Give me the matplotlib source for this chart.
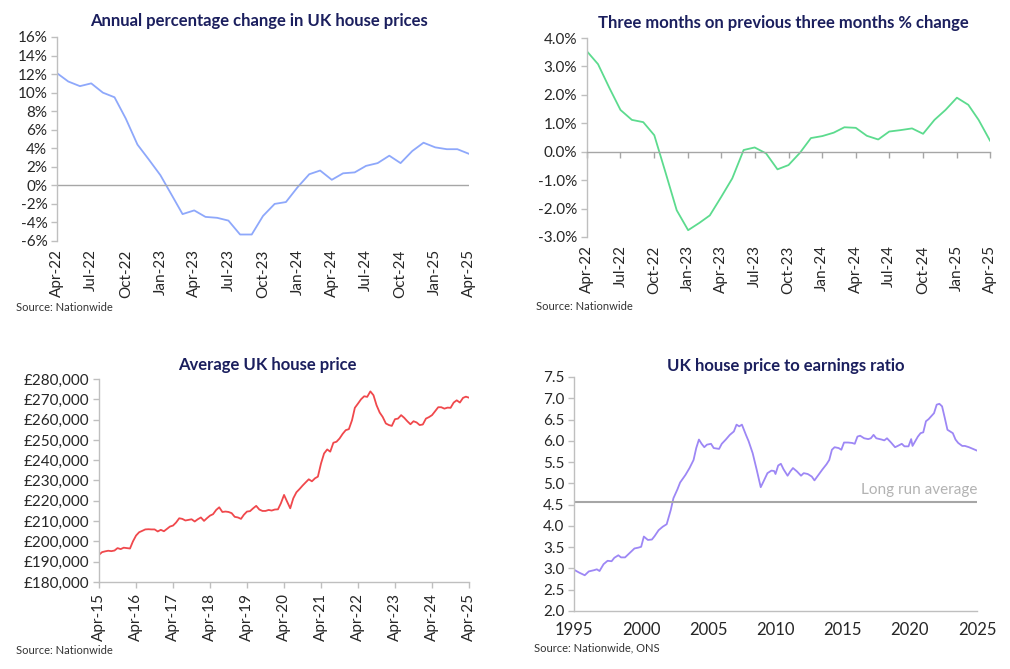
import matplotlib
matplotlib.use("Agg")
import matplotlib.pyplot as plt
import matplotlib.dates as mdates
import matplotlib.ticker as mticker
import pandas as pd

plt.rcParams['font.family'] = ['Lato', 'DejaVu Sans']

# --- data ---
annual_change = [12.1, 11.2, 10.7, 11.0, 10.0, 9.5, 7.2, 4.4, 2.8, 1.1, -1.1, -3.1,
                 -2.7, -3.4, -3.5, -3.8, -5.3, -5.3, -3.3, -2.0, -1.8, -0.2, 1.2, 1.6,
                 0.6, 1.3, 1.4, 2.1, 2.4, 3.2, 2.4, 3.7, 4.6, 4.1, 3.9, 3.9, 3.4]

three_month_change = [3.53, 3.08, 2.24, 1.47, 1.12, 1.04, 0.58, -0.75, -2.06, -2.76, -2.5, -2.24,
                      -1.59, -0.94, 0.06, 0.15, -0.06, -0.62, -0.47, -0.04, 0.48, 0.55, 0.67, 0.86,
                      0.84, 0.56, 0.43, 0.71, 0.76, 0.82, 0.63, 1.12, 1.47, 1.9, 1.65, 1.12, 0.39]

avg_price_k = [193.4, 194.7, 195.1, 195.4, 195.2, 195.5, 196.7, 196.2, 196.9, 196.7, 196.5, 200.0,
               202.9, 204.5, 205.2, 205.9, 206.0, 205.9, 205.9, 204.9, 205.7, 205.0, 206.2, 207.3,
               207.8, 209.3, 211.4, 211.1, 210.3, 210.6, 210.9, 209.8, 210.9, 211.8, 210.1, 211.4,
               212.7, 213.4, 215.5, 216.8, 214.5, 214.7, 214.5, 213.9, 212.1, 211.8, 211.1, 213.1,
               214.7, 214.9, 216.3, 217.5, 215.7, 215.0, 215.0, 215.5, 215.2, 215.7, 215.8, 218.8,
               222.9, 219.6, 216.3, 221.2, 224.2, 225.8, 227.5, 229.1, 230.6, 229.6, 231.1, 231.9,
               238.4, 243.3, 245.3, 244.2, 248.6, 249.1, 250.7, 253.0, 254.8, 255.3, 259.7, 265.8,
               267.9, 270.0, 271.5, 271.2, 273.9, 272.0, 267.1, 263.5, 261.3, 258.1, 257.3, 256.9,
               260.2, 260.5, 262.2, 260.9, 259.2, 257.7, 259.2, 258.6, 257.3, 257.6, 260.5, 261.2,
               262.2, 264.1, 266.1, 266.1, 265.4, 265.9, 265.8, 268.4, 269.5, 268.4, 270.7, 271.3,
               270.8]

ratio_years = [1995.0, 1995.4, 1995.8, 1996.1, 1996.5, 1996.7, 1996.9, 1997.2, 1997.5, 1997.8,
               1998.0, 1998.3, 1998.5, 1998.8, 1999.1, 1999.5, 1999.8, 2000.0, 2000.2, 2000.5,
               2000.8, 2001.0, 2001.3, 2001.6, 2001.9, 2002.2, 2002.4, 2002.7, 2002.9, 2003.3,
               2003.6, 2003.9, 2004.1, 2004.3, 2004.5, 2004.7, 2004.9, 2005.2, 2005.4, 2005.8,
               2006.0, 2006.3, 2006.6, 2006.9, 2007.1, 2007.3, 2007.5, 2007.8, 2008.0, 2008.3,
               2008.6, 2008.9, 2009.1, 2009.4, 2009.7, 2009.9, 2010.0, 2010.2, 2010.4, 2010.6,
               2010.9, 2011.1, 2011.3, 2011.6, 2011.9, 2012.1, 2012.4, 2012.7, 2012.9, 2013.2,
               2013.5, 2013.8, 2014.0, 2014.2, 2014.4, 2014.7, 2014.9, 2015.1, 2015.4, 2015.7,
               2015.9, 2016.1, 2016.3, 2016.6, 2016.9, 2017.1, 2017.3, 2017.5, 2017.9, 2018.1,
               2018.3, 2018.6, 2018.9, 2019.1, 2019.4, 2019.6, 2019.9, 2020.1, 2020.2, 2020.4,
               2020.6, 2020.8, 2021.0, 2021.2, 2021.4, 2021.6, 2021.8, 2022.0, 2022.2, 2022.4,
               2022.6, 2022.8, 2023.0, 2023.2, 2023.4, 2023.6, 2023.9, 2024.1, 2024.4, 2024.7,
               2025.0]
ratio_values = [2.97, 2.90, 2.84, 2.93, 2.96, 2.98, 2.94, 3.10, 3.18, 3.17,
                3.25, 3.31, 3.26, 3.26, 3.35, 3.47, 3.49, 3.51, 3.75, 3.67,
                3.68, 3.76, 3.90, 3.98, 4.04, 4.37, 4.65, 4.86, 5.02, 5.20,
                5.36, 5.55, 5.83, 6.03, 5.93, 5.85, 5.91, 5.93, 5.83, 5.81,
                5.93, 6.03, 6.14, 6.22, 6.38, 6.34, 6.38, 6.14, 5.99, 5.71,
                5.32, 4.91, 5.04, 5.24, 5.30, 5.29, 5.22, 5.42, 5.46, 5.33,
                5.18, 5.28, 5.36, 5.28, 5.18, 5.24, 5.22, 5.16, 5.07, 5.20,
                5.33, 5.45, 5.55, 5.79, 5.85, 5.83, 5.79, 5.96, 5.96, 5.95,
                5.93, 6.10, 6.12, 6.06, 6.04, 6.06, 6.14, 6.06, 6.03, 6.01,
                6.06, 5.96, 5.85, 5.88, 5.93, 5.87, 5.87, 6.04, 5.88, 5.99,
                6.10, 6.18, 6.20, 6.46, 6.51, 6.58, 6.65, 6.85, 6.87, 6.81,
                6.54, 6.26, 6.22, 6.18, 6.03, 5.95, 5.88, 5.88, 5.85, 5.81,
                5.77]
long_run_average = 4.57

months_short = pd.date_range("2022-04-01", periods=len(annual_change), freq="MS")
months_long = pd.date_range("2015-04-01", periods=len(avg_price_k), freq="MS")

TITLE_COL = "#1b1f5e"
AXIS_COL = "#bfbfbf"
ZERO_COL = "#a6a6a6"
TEXT_COL = "#333333"

W, H = 1010, 669
fig = plt.figure(figsize=(W / 100, H / 100), dpi=100)


def add_axes(left, top, right, bottom):
    return fig.add_axes([left / W, 1 - bottom / H, (right - left) / W, (bottom - top) / H])


def style(ax):
    for s in ["top", "right"]:
        ax.spines[s].set_visible(False)
    for s in ["left", "bottom"]:
        ax.spines[s].set_color(AXIS_COL)
        ax.spines[s].set_linewidth(1)
    ax.tick_params(axis="both", colors=AXIS_COL, labelcolor="#262626", labelsize=11,
                   length=4, width=1)
    ax.tick_params(axis="y", pad=3)


def title(x, y, text):
    fig.text(x / W, 1 - y / H, text, ha="center", va="center", fontsize=12,
             fontweight="bold", color=TITLE_COL)


def source(x, y, text):
    fig.text(x / W, 1 - y / H, text, ha="left", va="center", fontsize=8, color=TEXT_COL)


# --- panel 1: annual % change ---
ax1 = add_axes(57, 37, 469, 241)
style(ax1)
ax1.plot(months_short, annual_change, color="#8ea8fb", lw=1.3)
ax1.axhline(0, color=ZERO_COL, lw=1)
ax1.set_ylim(-6, 16)
ax1.set_yticks(range(-6, 17, 2))
ax1.yaxis.set_major_formatter(mticker.FuncFormatter(lambda v, p: f"{v:.0f}%"))
ax1.set_xlim(months_short[0], months_short[-1])
ax1.set_xticks(months_short[::3])
ax1.xaxis.set_major_formatter(mdates.DateFormatter("%b-%y"))
ax1.spines["bottom"].set_visible(False)
ax1.tick_params(axis="x", length=0, labelrotation=90, pad=6)
title(259, 21, "Annual percentage change in UK house prices")
source(16, 308, "Source: Nationwide")

# --- panel 2: three month on three month ---
ax2 = add_axes(587, 38, 990, 237)
style(ax2)
ax2.plot(months_short, three_month_change, color="#5cdb8e", lw=1.3)
ax2.set_ylim(-3, 4)
ax2.set_yticks(range(-3, 5))
ax2.yaxis.set_major_formatter(mticker.FuncFormatter(lambda v, p: f"{v:.1f}%"))
ax2.set_xlim(months_short[0], months_short[-1])
ax2.set_xticks(months_short[::3])
ax2.spines["bottom"].set_position(("data", 0))
ax2.spines["bottom"].set_color(ZERO_COL)
ax2.tick_params(axis="x", labelbottom=False, length=4, colors=ZERO_COL)
sec2 = ax2.secondary_xaxis("bottom")
sec2.set_xticks(months_short[::3])
sec2.xaxis.set_major_formatter(mdates.DateFormatter("%b-%y"))
sec2.spines["bottom"].set_visible(False)
sec2.tick_params(axis="x", length=0, labelrotation=90, labelsize=11, labelcolor="#262626", pad=6)
title(783, 23, "Three months on previous three months % change")
source(536, 306, "Source: Nationwide")

# --- panel 3: average price ---
ax3 = add_axes(99, 379, 469, 582)
style(ax3)
ax3.plot(months_long, [v * 1000 for v in avg_price_k], color="#f0484c", lw=1.3)
ax3.set_ylim(180000, 280000)
ax3.set_yticks(range(180000, 280001, 10000))
ax3.yaxis.set_major_formatter(mticker.FuncFormatter(lambda v, p: f"£{v:,.0f}"))
ax3.set_xlim(months_long[0], months_long[-1])
ax3.set_xticks(months_long[::12])
ax3.xaxis.set_major_formatter(mdates.DateFormatter("%b-%y"))
ax3.tick_params(axis="x", labelrotation=90, pad=4)
title(267, 365, "Average UK house price")
source(16, 650, "Source: Nationwide")

# --- panel 4: price to earnings ratio ---
ax4 = add_axes(574, 377, 977, 611)
style(ax4)
ax4.plot(ratio_years, ratio_values, color="#9d87f5", lw=1.3)
ax4.axhline(long_run_average, color="#a6a6a6", lw=1.5)
ax4.text(1.0, long_run_average + 0.1, "Long run average", transform=ax4.get_yaxis_transform(),
         ha="right", va="bottom", fontsize=11, color="#b3b3b3")
ax4.set_ylim(2.0, 7.5)
ax4.set_yticks([2.0 + 0.5 * i for i in range(12)])
ax4.yaxis.set_major_formatter(mticker.FormatStrFormatter("%.1f"))
ax4.set_xlim(1995, 2025)
ax4.set_xticks(range(1995, 2026, 5))
ax4.tick_params(axis="x", length=0, pad=8, labelsize=12)
title(786, 366, "UK house price to earnings ratio")
source(534, 648, "Source: Nationwide, ONS")

fig.savefig("out.png", dpi=100)
